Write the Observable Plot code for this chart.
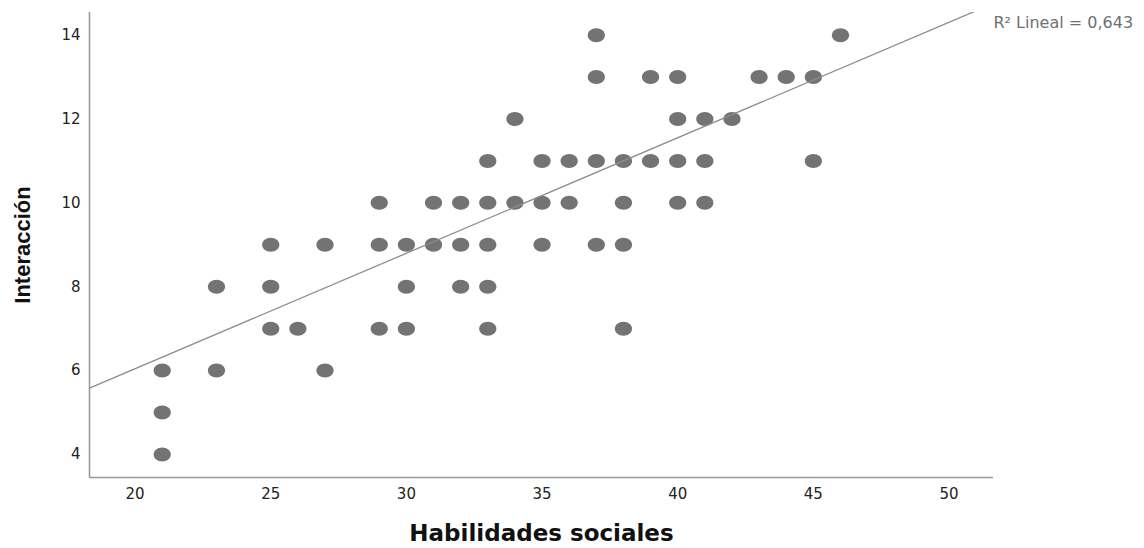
<!DOCTYPE html>
<html><head><meta charset="utf-8">
<script src="https://cdn.jsdelivr.net/npm/d3@7"></script>
<script src="https://cdn.jsdelivr.net/npm/@observablehq/plot@0.6"></script>
<style>body{margin:0;background:#fff}</style>
</head><body><div id="chart"></div>
<script>
// Data
const habilidades = [21,21,21,23,23,25,25,25,26,27,27,29,29,29,30,30,30,31,31,32,32,32,33,33,33,33,33,34,34,35,35,35,36,36,37,37,37,37,38,38,38,38,39,39,40,40,40,40,41,41,41,42,43,44,45,45,46];
const interaccion = [6,5,4,8,6,9,8,7,7,9,6,10,9,7,9,8,7,10,9,10,9,8,11,10,9,8,7,12,10,11,10,9,11,10,14,13,11,9,11,10,9,7,13,11,13,12,11,10,12,11,10,12,13,13,13,11,14];
const xTicks = [20,25,30,35,40,45,50];
const yTicks = [4,6,8,10,12,14];
const xDomain = [18.32, 51.64];
const yDomain = [3.45, 14.54];
const fitIntercept = 0.536;
const fitSlope = 0.2754;
const xLabel = "Habilidades sociales";
const yLabel = "Interacción";
const r2Label = "R² Lineal = 0,643";

const points = habilidades.map((x, i) => ({x, y: interaccion[i]}));
const fitLine = xDomain.map(x => ({x, y: fitIntercept + fitSlope * x}));

const ellipse = {
  draw(ctx) {
    const rx = 8.6, ry = 7, k = 0.5523;
    ctx.moveTo(rx, 0);
    ctx.bezierCurveTo(rx, ry * k, rx * k, ry, 0, ry);
    ctx.bezierCurveTo(-rx * k, ry, -rx, ry * k, -rx, 0);
    ctx.bezierCurveTo(-rx, -ry * k, -rx * k, -ry, 0, -ry);
    ctx.bezierCurveTo(rx * k, -ry, rx, -ry * k, rx, 0);
    ctx.closePath();
  }
};

const chart = Plot.plot({
  width: 1144,
  height: 548,
  marginLeft: 89,
  marginRight: 151,
  marginTop: 12,
  marginBottom: 71,
  style: {fontFamily: "'DejaVu Sans', sans-serif", fontSize: "15px", color: "#222", background: "#fff"},
  x: {domain: xDomain, ticks: xTicks},
  y: {domain: yDomain, ticks: yTicks},
  marks: [
    Plot.axisX({ticks: xTicks, tickSize: 0, tickPadding: 11, label: null, fill: "#222"}),
    Plot.axisY({ticks: yTicks, tickSize: 0, tickPadding: 9, label: null, fill: "#222"}),
    Plot.ruleX([xDomain[0]], {stroke: "#9a9a9a", strokeWidth: 1.6}),
    Plot.ruleY([yDomain[0]], {stroke: "#9a9a9a", strokeWidth: 1.6}),
    Plot.dot(points, {x: "x", y: "y", symbol: ellipse, fill: "#737373", stroke: "none"}),
    Plot.line(fitLine, {x: "x", y: "y", stroke: "#8c8c8c", strokeWidth: 1.3, clip: true}),
    Plot.text([r2Label], {frameAnchor: "top-right", textAnchor: "start", lineAnchor: "middle", dy: 10, fill: "#707070", fontSize: 16}),
    Plot.text([xLabel], {frameAnchor: "bottom", textAnchor: "middle", dy: 63, fontSize: 23, fontWeight: "bold", fill: "#111"}),
    Plot.text([yLabel], {frameAnchor: "left", textAnchor: "middle", lineAnchor: "middle", rotate: -90, dx: -67, fontSize: 22, fontWeight: "bold", fontFamily: "'Liberation Sans', Arial, sans-serif", fill: "#111"})
  ]
});
document.getElementById("chart").appendChild(chart);
</script>
</body></html>
